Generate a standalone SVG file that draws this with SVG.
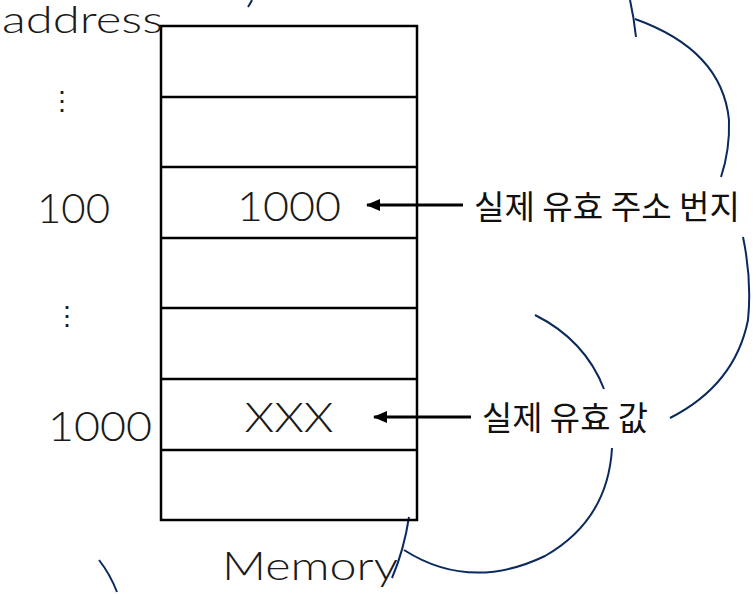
<svg xmlns="http://www.w3.org/2000/svg" width="756" height="594" viewBox="0 0 756 594">
<style>
.lat{font-family:Lato,"Liberation Sans",sans-serif;font-weight:300;fill:#1a1a1a}
.kr{font-family:"Noto Sans CJK KR",sans-serif;font-size:32.5px;fill:#111}
.cell{fill:none;stroke:#000;stroke-width:2.5}
.arc{fill:none;stroke:#0a2a5e;stroke-width:2}
.con{stroke:#000;stroke-width:3;fill:none}
</style>
<defs>
<marker id="ah" markerWidth="14" markerHeight="12" refX="13" refY="6" orient="auto" markerUnits="userSpaceOnUse" viewBox="0 0 14 12">
<path d="M14,6 L0,0 L0,12 Z" fill="#000"/>
</marker>
</defs>
<g id="cloud">
<path class="arc" d="M252,0 Q250,4 248,7"/>
<path class="arc" d="M630,0 Q634,18 636,37"/>
<path class="arc" d="M635,19 Q722,50 729,120 Q730,150 721,177"/>
<path class="arc" d="M743,237 Q752,280 748,320 Q735,385 670,418"/>
<path class="arc" d="M535,315 Q585,340 604,389"/>
<path class="arc" d="M612,448 Q608,520 545,556 Q470,592 404,550"/>
<path class="arc" d="M409,517 Q404,550 392,578"/>
<path class="arc" d="M99,560 Q110,574 117,592"/>
</g>
<g id="memory">
<rect class="cell" x="161" y="26" width="256" height="494"/>
<line class="cell" x1="161" y1="97" x2="417" y2="97"/>
<line class="cell" x1="161" y1="167" x2="417" y2="167"/>
<line class="cell" x1="161" y1="238" x2="417" y2="238"/>
<line class="cell" x1="161" y1="308" x2="417" y2="308"/>
<line class="cell" x1="161" y1="379" x2="417" y2="379"/>
<line class="cell" x1="161" y1="450" x2="417" y2="450"/>
<text class="lat" x="289" y="221" font-size="42" text-anchor="middle" textLength="104" lengthAdjust="spacingAndGlyphs">1000</text>
<text class="lat" x="289" y="432" font-size="42" text-anchor="middle" textLength="89" lengthAdjust="spacingAndGlyphs">XXX</text>
<text class="lat" x="222" y="580" font-size="40" textLength="176" lengthAdjust="spacingAndGlyphs">Memory</text>
</g>
<g id="addresses">
<text class="lat" x="2" y="33" font-size="37" textLength="161" lengthAdjust="spacingAndGlyphs">address</text>
<text class="lat" x="62" y="110" font-size="26" text-anchor="middle">⋮</text>
<text class="lat" x="37" y="223" font-size="42" textLength="73" lengthAdjust="spacingAndGlyphs">100</text>
<text class="lat" x="67" y="325" font-size="26" text-anchor="middle">⋮</text>
<text class="lat" x="48" y="441" font-size="42" textLength="104" lengthAdjust="spacingAndGlyphs">1000</text>
</g>
<g id="label-addr">
<text class="kr" x="474" y="219" textLength="266" lengthAdjust="spacingAndGlyphs">실제 유효 주소 번지</text>
</g>
<g id="label-val">
<text class="kr" x="482" y="430" textLength="166" lengthAdjust="spacingAndGlyphs">실제 유효 값</text>
</g>
<g id="connectors">
<line class="con" x1="463" y1="205" x2="367" y2="205" marker-end="url(#ah)"/>
<line class="con" x1="471" y1="417" x2="374" y2="417" marker-end="url(#ah)"/>
</g>
</svg>
